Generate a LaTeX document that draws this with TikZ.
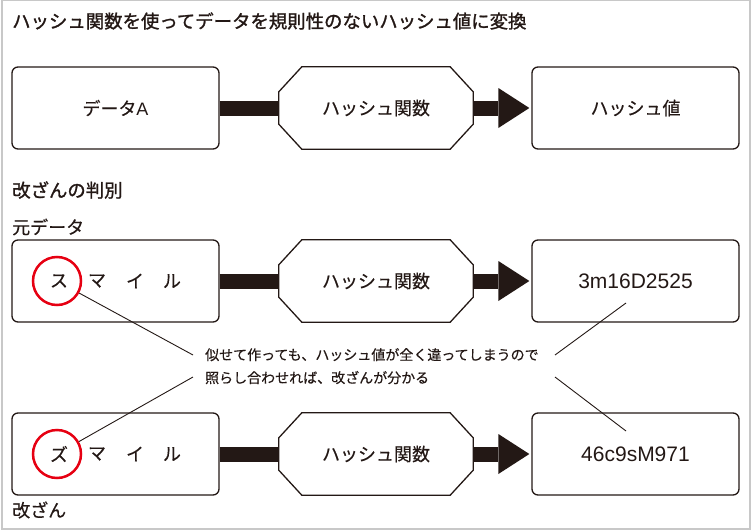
\documentclass[tikz,border=0pt]{standalone}
\usepackage{fontspec}
\setmainfont{Noto Sans CJK JP}[FakeBold=0.35]
\newfontfamily\jphead{Noto Sans CJK JP}[FakeBold=1.3]
\newfontfamily\lat{Liberation Sans}
\usetikzlibrary{arrows.meta,calc}
\definecolor{ink}{HTML}{231815}
\definecolor{redc}{HTML}{E60012}
\definecolor{framec}{HTML}{C8C8C8}
\newcommand\hexdraw[1]{%
  \draw[ink, line width=1.3pt]
    ([xshift=23pt]#1.north west) -- ([xshift=-23pt]#1.north east)
    -- ([yshift=-25pt]#1.north east) -- ([yshift=25pt]#1.south east)
    -- ([xshift=-23pt]#1.south east) -- ([xshift=23pt]#1.south west)
    -- ([yshift=25pt]#1.south west) -- ([yshift=-25pt]#1.north west) -- cycle;}
\begin{document}
\begin{tikzpicture}[x=1pt,y=-1pt,
  jp/.style={font=\fontsize{18pt}{22pt}\selectfont, text=ink},
  heading/.style={font=\jphead\fontsize{18.4pt}{22pt}\selectfont, text=ink, anchor=west, inner sep=0pt},
  label/.style={font=\fontsize{18pt}{22pt}\selectfont, text=ink, anchor=west, inner sep=0pt},
  box/.style={draw=ink, line width=1.3pt, rounded corners=6pt, minimum width=207pt, minimum height=82pt, inner sep=0pt, jp},
  hexn/.style={minimum width=194pt, minimum height=82pt, inner sep=0pt, jp},
  hashtxt/.style={font=\lat\fontsize{21pt}{24pt}\selectfont},
  bar/.style={ink, line width=15pt},
  arr/.style={bar, -{Triangle[length=31pt,width=40pt,line width=0pt]}, shorten >=2pt},
  redcirc/.style={circle, draw=redc, line width=2.5pt, minimum size=48pt, inner sep=0pt, jp},
  kana/.style={jp, inner sep=0pt},
  pointer/.style={ink, line width=0.9pt},
  note/.style={font=\fontsize{14pt}{23pt}\selectfont, text=ink, anchor=base west, inner sep=0pt}
]
\useasboundingbox (0,0) rectangle (752,530);
\draw[framec, line width=2pt] (2,0) rectangle (750,528.5);

% headings
\node[heading] (title) at (12,21) {ハッシュ関数を使ってデータを規則性のないハッシュ値に変換};
\node[heading] (sec) at (12,190) {改ざんの判別};
\node[label] (orig) at (12,227) {元データ};
\node[label] (tamp) at (12,510) {改ざん};

% row 1
\node[box] (a1) at (115.5,108) {データ{\lat A}};
\node[hexn] (h1) at (376,108) {ハッシュ関数};
\hexdraw{h1}
\node[box] (c1) at (635.5,108) {ハッシュ値};
\draw[bar] (a1.east) -- (h1.west);
\draw[arr] (h1.east) -- (c1.west);

% row 2
\node[box] (a2) at (115.5,281) {};
\node[redcirc] (s2) at (57,281) {\hspace{4pt}ス};
\node[kana] (m2) at (97,281) {マ};
\node[kana] (i2) at (135,281) {イ};
\node[kana] (l2) at (172,281) {ル};
\node[hexn] (h2) at (376,281) {ハッシュ関数};
\hexdraw{h2}
\node[box, hashtxt] (c2) at (635.5,281) {3m16D2525};
\draw[bar] (a2.east) -- (h2.west);
\draw[arr] (h2.east) -- (c2.west);

% row 3
\node[box] (a3) at (115.5,454) {};
\node[redcirc] (s3) at (57,454) {\hspace{4pt}ズ};
\node[kana] (m3) at (97,454) {マ};
\node[kana] (i3) at (135,454) {イ};
\node[kana] (l3) at (172,454) {ル};
\node[hexn] (h3) at (376,454) {ハッシュ関数};
\hexdraw{h3}
\node[box, hashtxt] (c3) at (635.5,454) {46c9sM971};
\draw[bar] (a3.east) -- (h3.west);
\draw[arr] (h3.east) -- (c3.west);

% note
\node[note] (n1) at (205,360) {似せて作っても、ハッシュ値が全く違ってしまうので};
\node[note] (n2) at (205,383) {照らし合わせれば、改ざんが分かる};
\coordinate (pl1) at (193,355);
\coordinate (pl2) at (193,377);
\coordinate (pr1) at (555,355);
\coordinate (pr2) at (555,377);
\coordinate (t2) at (626,303);
\coordinate (t3) at (626,431);
\draw[pointer] (s2) -- (pl1);
\draw[pointer] (s3) -- (pl2);
\draw[pointer] (pr1) -- (t2);
\draw[pointer] (pr2) -- (t3);
\end{tikzpicture}
\end{document}
